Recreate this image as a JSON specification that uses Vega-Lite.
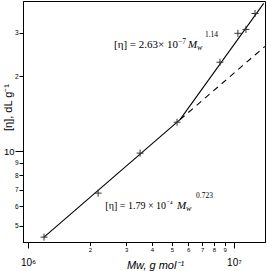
{
  "$schema": "https://vega.github.io/schema/vega-lite/v6.json",
  "width": 242,
  "height": 241,
  "autosize": "none",
  "padding": {"left": 23, "top": 1, "right": 2, "bottom": 29},
  "config": {
    "view": {"stroke": "#000", "strokeWidth": 1},
    "font": "Liberation Sans",
    "text": {"font": "Liberation Serif", "color": "#000", "baseline": "alphabetic"},
    "axis": {"grid": false, "domainColor": "#000", "tickColor": "#000", "labelColor": "#000", "titleColor": "#000", "labelFont": "Liberation Sans", "titleFont": "Liberation Sans", "titleFontWeight": "normal", "labelOverlap": false, "labelFlush": false, "labelBound": false}
  },
  "datasets": {
    "pts": [
      {"M": 1196000, "eta": 4.51},
      {"M": 2190000, "eta": 6.78},
      {"M": 3500000, "eta": 9.82},
      {"M": 5290000, "eta": 13.08},
      {"M": 8550000, "eta": 22.8},
      {"M": 10450000, "eta": 29.8},
      {"M": 11430000, "eta": 30.9},
      {"M": 12650000, "eta": 35.8}
    ],
    "lines": [
      {"seg": "low", "M": 1196000, "eta": 4.51},
      {"seg": "low", "M": 5470000, "eta": 13.39},
      {"seg": "high", "M": 5470000, "eta": 13.39},
      {"seg": "high", "M": 13940000, "eta": 39.3},
      {"seg": "dash", "M": 5470000, "eta": 13.39},
      {"seg": "dash", "M": 14140000, "eta": 26.4}
    ],
    "ann": [
      {"eq": "a", "M": 5980000, "eta": 25.9, "main": "[η] = 2.63× 10", "exp": "−7", "sup": "1.14"},
      {"eq": "b", "M": 5290000, "eta": 5.85, "main": "[η] = 1.79 × 10", "exp": "⁻⁴", "sup": "0.723"}
    ]
  },
  "encoding": {
    "x": {
      "field": "M", "type": "quantitative",
      "scale": {"type": "log", "domain": [945600, 14145000], "nice": false},
      "axis": {
        "title": "Mw, g mol⁻¹", "titleFontStyle": "italic", "titleFontSize": 11,
        "titleX": 132, "titleY": 26, "titleBaseline": "alphabetic", "titleAlign": "center", "titleAnchor": "start",
        "values": [1000000, 2000000, 3000000, 4000000, 5000000, 6000000, 7000000, 8000000, 9000000, 10000000],
        "labelExpr": "datum.value == 1000000 ? '10⁶' : datum.value == 10000000 ? '10⁷' : '' + datum.value / 1000000",
        "labelFontSize": {"condition": {"test": "datum.value == 1000000 || datum.value == 10000000", "value": 10}, "value": 6},
        "tickSize": {"condition": {"test": "datum.value == 1000000 || datum.value == 10000000", "value": 6}, "value": 3.5},
        "labelPadding": {"condition": {"test": "datum.value == 1000000 || datum.value == 10000000", "value": 9}, "value": 1}
      }
    },
    "y": {
      "field": "eta", "type": "quantitative",
      "scale": {"type": "log", "domain": [4.311, 40.2], "nice": false},
      "axis": {
        "title": "[η], dL g⁻¹", "titleFontSize": 11,
        "titleX": -12, "titleY": 106, "titleBaseline": "alphabetic", "titleAlign": "center", "titleAngle": -90, "titleAnchor": "start",
        "values": [5, 6, 7, 8, 9, 10, 20, 30],
        "labelExpr": "datum.value >= 20 ? '' + datum.value / 10 : '' + datum.value",
        "labelFontSize": {"condition": {"test": "datum.value == 10", "value": 9.5}, "value": 6.5},
        "tickSize": {"condition": {"test": "datum.value == 10", "value": 8}, "value": 4},
        "labelPadding": 1
      }
    }
  },
  "layer": [
    {
      "data": {"name": "lines"},
      "transform": [{"filter": "datum.seg != 'dash'"}],
      "mark": {"type": "line", "color": "#000", "strokeWidth": 1.1, "clip": true},
      "encoding": {"detail": {"field": "seg"}}
    },
    {
      "data": {"name": "lines"},
      "transform": [{"filter": "datum.seg == 'dash'"}],
      "mark": {"type": "line", "color": "#000", "strokeWidth": 1.1, "strokeDash": [6, 5], "clip": true},
      "encoding": {}
    },
    {
      "data": {"name": "pts"},
      "mark": {"type": "point", "shape": "M-1,0H1M0,-1V1", "size": 49, "filled": false, "stroke": "#333", "strokeWidth": 1, "opacity": 1}
    },
    {
      "data": {"name": "ann"},
      "transform": [{"filter": "datum.eq == 'a'"}],
      "layer": [
        {"mark": {"type": "text", "align": "right", "dx": -10, "fontSize": 11}, "encoding": {"text": {"field": "main"}}},
        {"mark": {"type": "text", "align": "left", "dx": -10, "dy": -4, "fontSize": 7.5}, "encoding": {"text": {"field": "exp"}}},
        {"mark": {"type": "text", "text": "M", "align": "left", "fontStyle": "italic", "fontSize": 11}},
        {"mark": {"type": "text", "text": "w", "align": "left", "dx": 9, "dy": 2, "fontStyle": "italic", "fontSize": 8}},
        {"mark": {"type": "text", "align": "left", "dx": 17, "dy": -11, "fontSize": 7.5}, "encoding": {"text": {"field": "sup"}}}
      ]
    },
    {
      "data": {"name": "ann"},
      "transform": [{"filter": "datum.eq == 'b'"}],
      "layer": [
        {"mark": {"type": "text", "align": "right", "dx": -11, "fontSize": 10}, "encoding": {"text": {"field": "main"}}},
        {"mark": {"type": "text", "align": "left", "dx": -10, "dy": -3, "fontSize": 7.5}, "encoding": {"text": {"field": "exp"}}},
        {"mark": {"type": "text", "text": "M", "align": "left", "fontStyle": "italic", "fontSize": 11}},
        {"mark": {"type": "text", "text": "w", "align": "left", "dx": 9, "dy": 2, "fontStyle": "italic", "fontSize": 8}},
        {"mark": {"type": "text", "align": "left", "dx": 19, "dy": -11, "fontSize": 7.5}, "encoding": {"text": {"field": "sup"}}}
      ]
    }
  ]
}
